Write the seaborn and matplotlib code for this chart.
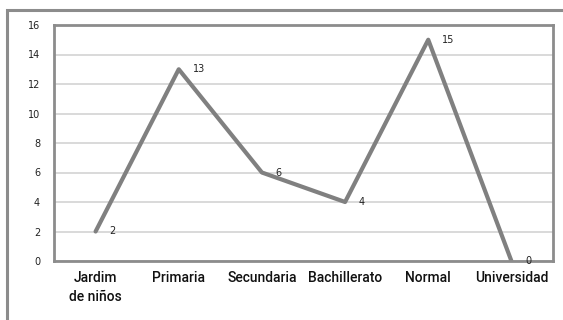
import matplotlib
matplotlib.use("Agg")
import matplotlib.pyplot as plt
import matplotlib.patches as patches
import seaborn as sns
import pandas as pd

# Data
niveles = ["Jardim\nde niños", "Primaria", "Secundaria", "Bachillerato", "Normal", "Universidad"]
valores = [2, 13, 6, 4, 15, 0]
y_ticks = [0, 2, 4, 6, 8, 10, 12, 14, 16]

df = pd.DataFrame({"pos": range(len(niveles)), "valor": valores})

sns.set_style("white")
plt.rcParams['font.family'] = ['DejaVu Sans']

fig = plt.figure(figsize=(5.63, 3.2), dpi=100)
ax = fig.add_axes([54 / 563, 1 - 261 / 320, (553 - 54) / 563, (261 - 25) / 320])

# outer chart frame (cut off at right and bottom like the original)
fig.patches.append(patches.Rectangle((7.5 / 563, -0.1), 1.2, 1.1 - 9.5 / 320,
                                     transform=fig.transFigure, fill=False,
                                     edgecolor="#8c8c8c", linewidth=2.2, zorder=0))

ax.set_axisbelow(True)
ax.yaxis.grid(True, color="#d9d9d9", linewidth=1.4)
sns.lineplot(data=df, x="pos", y="valor", ax=ax, color="#808080", linewidth=3,
             solid_joinstyle="round", solid_capstyle="round")

for x, v in zip(df["pos"], df["valor"]):
    ax.annotate(str(v), (x, v), xytext=(10, 0), textcoords="offset points",
                fontsize=7, va="center", ha="left", color="#222222")

ax.set_xlim(-0.5, len(niveles) - 0.5)
ax.set_ylim(0, 16)
ax.set_yticks(y_ticks)
ax.set_yticklabels([str(t) for t in y_ticks], fontsize=7, color="#222222")

# category labels centered, tick marks on the boundaries
ax.set_xticks([i - 0.5 for i in range(len(niveles) + 1)])
ax.set_xticklabels([])
ax.set_xticks(range(len(niveles)), minor=True)
ax.set_xticklabels(niveles, minor=True, fontsize=10, fontweight="medium",
                   family=["Roboto", "DejaVu Sans"], color="#111111", linespacing=1.45)
ax.tick_params(axis="x", which="minor", length=0, pad=7)
ax.tick_params(axis="x", which="major", length=4, width=1.5, color="#8c8c8c", direction="out")
ax.tick_params(axis="y", length=4, width=1.5, color="#8c8c8c", direction="out", pad=6)

ax.set_xlabel("")
ax.set_ylabel("")
for side in ["top", "right", "left", "bottom"]:
    ax.spines[side].set_color("#8c8c8c")
    ax.spines[side].set_linewidth(2)

fig.savefig("out.png", dpi=100)
